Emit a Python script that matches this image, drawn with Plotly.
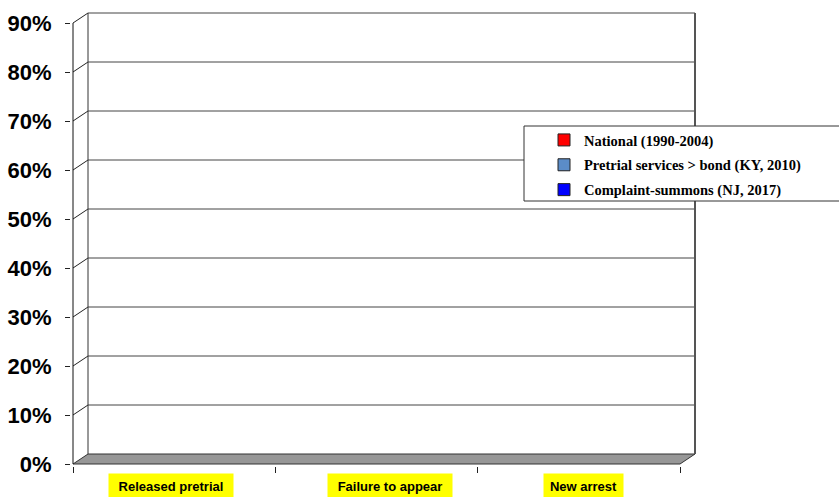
import plotly.graph_objects as go

# ---- data ----
categories = ["Released pretrial", "Failure to appear", "New arrest"]
series_names = ["National (1990-2004)", "Pretrial services > bond (KY, 2010)", "Complaint-summons (NJ, 2017)"]
national = [None, None, None]
ky_pretrial = [None, None, None]
nj_summons = [None, None, None]
series_values = [national, ky_pretrial, nj_summons]
series_colors = ["#FF0000", "#5B8CC8", "#0000FF"]
y_ticks = [0, 0.1, 0.2, 0.3, 0.4, 0.5, 0.6, 0.7, 0.8, 0.9]
y_ticktext = ["0%", "10%", "20%", "30%", "40%", "50%", "60%", "70%", "80%", "90%"]

# ---- geometry (pixels) ----
W, H = 839, 497
FRONT_LEFT, FRONT_RIGHT = 73, 680
FRONT_ZERO_Y = 464
PX_Y = 490.0                      # pixels per unit (100%)
PX_X = (FRONT_RIGHT - FRONT_LEFT) / len(categories)
DEPTH_X, DEPTH_Y = 15, 10         # 3D offset of back wall
plot_left, plot_right = 71, 698
plot_top, plot_bottom = 8, 466

dx = DEPTH_X / PX_X
dy = DEPTH_Y / PX_Y
ncat = len(categories)
xmin = (plot_left - FRONT_LEFT) / PX_X
xmax = (plot_right - FRONT_LEFT) / PX_X
ymin = (FRONT_ZERO_Y - plot_bottom) / PX_Y
ymax = (FRONT_ZERO_Y - plot_top) / PX_Y

def px_to_paper_x(px):
    return (px - plot_left) / (plot_right - plot_left)

def px_to_paper_y(py):
    return (plot_bottom - py) / (plot_bottom - plot_top)

fig = go.Figure()
xcenters = [i + 0.5 for i in range(ncat)]
for name, vals, col in zip(series_names, series_values, series_colors):
    fig.add_trace(go.Bar(
        x=xcenters, y=vals, name=name, legendgroup=name,
        marker=dict(color=col, line=dict(color="#222222", width=1)),
        width=0.25,
    ))

shapes = []
grid_col = "#444444"
# floor
shapes.append(dict(type="path", xref="x", yref="y",
                   path=f"M 0,0 L {ncat},0 L {ncat+dx},{dy} L {dx},{dy} Z",
                   fillcolor="#979797", line=dict(color="#333333", width=1), layer="below"))
# back wall gridlines + side diagonals
for v in y_ticks[1:]:
    shapes.append(dict(type="line", xref="x", yref="y", x0=dx, y0=v + dy, x1=ncat + dx, y1=v + dy,
                       line=dict(color=grid_col, width=1), layer="below"))
    shapes.append(dict(type="line", xref="x", yref="y", x0=0, y0=v, x1=dx, y1=v + dy,
                       line=dict(color="#222222", width=1), layer="below"))
# back wall left edge
shapes.append(dict(type="line", xref="x", yref="y", x0=dx, y0=dy, x1=dx, y1=y_ticks[-1] + dy,
                   line=dict(color="#333333", width=1), layer="below"))
# back wall right edge
shapes.append(dict(type="line", xref="x", yref="y", x0=ncat + dx, y0=dy, x1=ncat + dx, y1=y_ticks[-1] + dy,
                   line=dict(color="#555555", width=2), layer="below"))
# front vertical axis line
shapes.append(dict(type="line", xref="x", yref="y", x0=0, y0=0, x1=0, y1=y_ticks[-1],
                   line=dict(color="#111111", width=1), layer="below"))
# legend box
shapes.append(dict(type="rect", xref="paper", yref="paper",
                   x0=px_to_paper_x(524), x1=px_to_paper_x(850),
                   y0=px_to_paper_y(201), y1=px_to_paper_y(126),
                   fillcolor="white", line=dict(color="#333333", width=1), layer="above"))

# category labels with yellow background
label_shift = [-3, 13, 5]
label_width = [118, 118, 73]
annotations = []
for i, cat in enumerate(categories):
    annotations.append(dict(
        x=i + 0.5, xref="x", y=0, yref="paper", yanchor="top", xanchor="center",
        text=f"<b>{cat}</b>", showarrow=False, xshift=label_shift[i], yshift=-7,
        bgcolor="#FFFF00", borderpad=3, width=label_width[i], height=18,
        font=dict(family="Arial, Liberation Sans, sans-serif", size=13, color="black"),
    ))

fig.update_layout(
    width=W, height=H,
    margin=dict(l=plot_left, r=W - plot_right, t=plot_top, b=H - plot_bottom, pad=0, autoexpand=False),
    paper_bgcolor="white", plot_bgcolor="white",
    barmode="group",
    shapes=shapes, annotations=annotations,
    xaxis=dict(range=[xmin, xmax], tickvals=list(range(ncat + 1)), ticktext=[""] * (ncat + 1),
               ticks="outside", ticklen=6, tickcolor="#222222", showgrid=False, zeroline=False,
               showline=False, fixedrange=True, automargin=False),
    yaxis=dict(range=[ymin, ymax], tickvals=y_ticks, ticktext=y_ticktext, automargin=False,
               ticks="outside", ticklen=5, tickcolor="#222222", showgrid=False, zeroline=False,
               showline=False, ticklabelstandoff=9,
               tickfont=dict(family="Arial, Liberation Sans, sans-serif", size=22, color="black",
                             weight="bold")),
    showlegend=True,
    legend=dict(x=px_to_paper_x(544), y=px_to_paper_y(124), xanchor="left", yanchor="top",
                bgcolor="rgba(0,0,0,0)", borderwidth=0, traceorder="grouped", tracegroupgap=3,
                font=dict(family="Times New Roman, Liberation Serif, serif", size=14.5, color="black",
                          weight="bold")),
)

fig.write_html("out.html", config={"displayModeBar": False},
               post_script="document.body.style.margin='0';document.body.style.overflow='hidden';")
